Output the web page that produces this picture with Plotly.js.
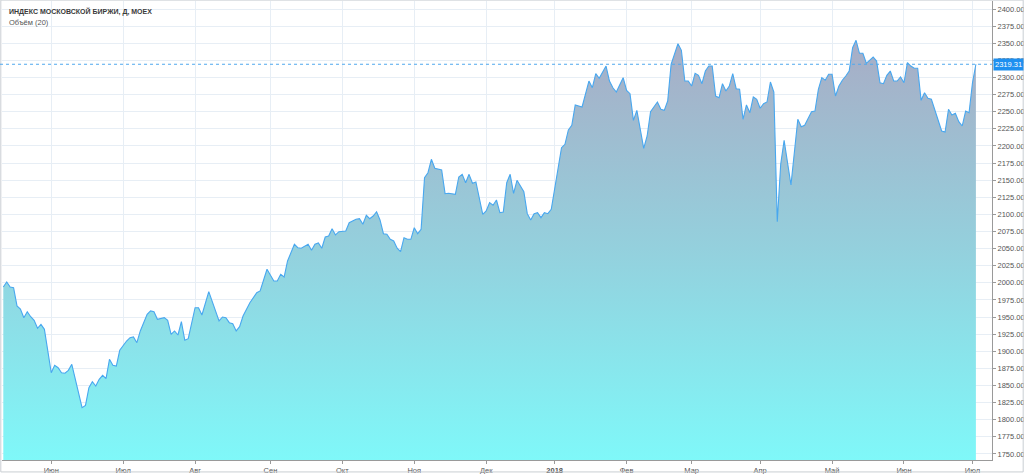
<!DOCTYPE html>
<html><head><meta charset="utf-8">
<script src="https://cdn.plot.ly/plotly-3.0.1.min.js"></script>
<style>html,body{margin:0;padding:0;background:#fff;overflow:hidden}#chart{width:1024px;height:474px}</style>
</head><body><div id="chart"></div>
<script>
// trading-session index (bar number) and close values of the MOEX index
const sessionIdx = [0,1,2,3,4,5,6,7,8,9,10,11,12,14,15,16,17,18,19,20,23,24,25,26,27,28,29,30,31,32,33,34,36,37,38,39,40,42,43,44,45,47,48,49,50,51,52,53,54,56,57,58,60,63,64,65,66,67,68,69,70,72,74,75,77,79,80,81,82,83,85,86,87,89,90,91,92,93,94,95,96,97,98,99,100,101,103,104,105,106,107,108,109,110,111,112,113,114,115,116,117,118,119,120,121,122,123,124,125,126,127,128,129,130,132,133,134,135,136,137,138,140,141,142,143,144,145,146,147,148,149,150,152,153,154,155,156,157,158,159,160,163,164,165,166,167,169,171,172,173,174,176,177,178,179,181,182,183,184,185,187,188,189,191,192,193,194,195,197,198,199,200,201,202,203,204,205,206,207,208,209,210,211,212,213,214,215,216,217,218,219,220,221,222,223,224,225,226,227,228,230,232,233,234,236,237,238,239,240,241,242,243,244,245,246,247,248,249,250,251,252,253,254,255,256,257,258,259,260,261,262,263,264,265,266,267,268,269,270,271,274,275,276,277,278,279,280,281,282,283,284];
const closeValues = [1993.9,2001.2,1993.9,1992.9,1966.2,1961.8,1949.1,1957.8,1950.5,1945.3,1933.6,1939.4,1932.1,1868.7,1879.6,1876,1868.7,1867.9,1872.2,1881,1817.6,1821,1846.8,1855.6,1849.3,1859.1,1864.9,1860,1888.3,1879.6,1878.5,1901.5,1915,1919.9,1920.9,1912.6,1929.7,1954,1958.9,1957.8,1946.7,1949.1,1945.3,1924.8,1929.7,1923.8,1943.2,1916.1,1918.4,1963.7,1963.7,1953,1987.1,1944.3,1950.1,1949.1,1941.8,1940.3,1929.7,1935.9,1951.6,1971,1985.6,1988.1,2019.8,2002.7,2002.7,2012.5,2008.5,2031.9,2056.3,2051.3,2050.5,2056.3,2047.5,2056.3,2058.2,2050.5,2067,2068.4,2079.1,2069.9,2074.7,2075.7,2075.7,2087.8,2092.8,2093.7,2085.5,2098.7,2093.7,2097.6,2103.9,2091.8,2071.8,2070.9,2063.6,2061.1,2050.5,2045.5,2065.9,2063.6,2063.6,2080.5,2071.8,2078.2,2153.6,2160.9,2180.5,2167.3,2165.9,2164.8,2130.2,2130.8,2129.3,2154.6,2158.5,2146.3,2158.5,2145.4,2147.3,2100.1,2104.9,2117.1,2113.3,2121,2102.5,2103.5,2146.3,2158.5,2130.8,2149.8,2133.1,2101,2091.8,2101,2102.5,2095.2,2102.5,2101,2107.4,2197.4,2202.4,2223.3,2230.1,2259.8,2256.9,2294.8,2285,2305.5,2298.8,2316.7,2294.8,2285,2278.8,2299.7,2281.2,2276.3,2237.4,2252,2196.5,2214.5,2250,2264.2,2253.5,2252,2265.6,2319.2,2349.3,2339.7,2294.8,2294.8,2287.5,2306.1,2303.2,2290.9,2309.4,2316.7,2316.7,2272.9,2270.4,2290.9,2280.2,2287.5,2305.5,2283.6,2282.7,2238.9,2259.8,2248.5,2271.5,2268.1,2255,2261.7,2264.2,2293.4,2278.8,2089.3,2173.2,2208.2,2142.9,2238.9,2228.1,2230.1,2250,2251,2282.7,2299.7,2295.9,2304.6,2304.6,2272.9,2287.5,2295.9,2302.1,2309.4,2343.5,2354.3,2335.3,2335.3,2320.7,2325.1,2329.9,2324,2292.3,2290.9,2303.2,2309.4,2294.8,2294.8,2300.7,2292.3,2321.6,2316.7,2313.4,2313.4,2266.6,2277.7,2269.6,2268.1,2221.8,2220.3,2253.5,2245.2,2247.6,2235.4,2229.1,2251,2248.5,2292.3,2319.31];
// first session of each month
const monthTickIdx = [14,35,56,78,99,120,141,161,182,201,221,242,263,283];
const monthLabels = ['Июн','Июл','Авг','Сен','Окт','Ноя','Дек','<b>2018</b>','Фев','Мар','Апр','Май','Июн','Июл'];
const lastPrice = 2319.31;
const chartTitle = 'ИНДЕКС МОСКОВСКОЙ БИРЖИ, Д, MOEX';
const subTitle = 'Объём (20)';

const FONT = 'Liberation Sans, Arial, sans-serif';
const GRID = '#E7EEF5';

const trace = {
  type: 'scatter', mode: 'lines',
  x: sessionIdx, y: closeValues,
  line: {color: '#48A7EF', width: 1.1},
  fill: 'tozeroy',
  fillgradient: {type: 'vertical', start: 1741, stop: 2360,
    colorscale: [[0, 'rgb(127,248,249)'], [0.5, 'rgb(148,208,221)'], [1, 'rgb(168,172,197)']]},
  hoverinfo: 'skip'
};

const layout = {
  width: 1024, height: 474,
  margin: {l: 2, r: 32, t: 1, b: 14, pad: 0},
  paper_bgcolor: '#ffffff', plot_bgcolor: '#ffffff',
  showlegend: false,
  font: {family: FONT, size: 8, color: '#555'},
  xaxis: {
    type: 'linear', range: [-0.38, 288.7], fixedrange: true,
    tickmode: 'array', tickvals: monthTickIdx, ticktext: monthLabels,
    showgrid: true, gridcolor: GRID, gridwidth: 1, zeroline: false,
    showline: true, linecolor: '#9a9a9a', linewidth: 1,
    ticks: 'outside', ticklen: 3, tickcolor: '#9a9a9a',
    tickfont: {family: FONT, size: 7.5, color: '#555'}
  },
  yaxis: {
    side: 'right', range: [1741.2, 2411.7], fixedrange: true,
    tickmode: 'linear', tick0: 1750, dtick: 25, tickformat: '.2f',
    showgrid: true, gridcolor: GRID, gridwidth: 1, zeroline: false,
    showline: true, linecolor: '#9a9a9a', linewidth: 1,
    ticks: 'outside', ticklen: 3, tickcolor: '#9a9a9a',
    tickfont: {family: FONT, size: 7.5, color: '#555'}
  },
  shapes: [
    {type: 'rect', xref: 'paper', yref: 'paper', x0: -0.0012, x1: 1.0315, y0: -0.026, y1: 1.002,
     line: {color: '#C9CED3', width: 1}, fillcolor: 'rgba(0,0,0,0)', layer: 'above'},
    {type: 'line', xref: 'paper', yref: 'y', x0: -0.002, x1: 1, y0: lastPrice, y1: lastPrice,
     line: {color: '#4FA8EE', width: 1, dash: 'dot'}, layer: 'above'}
  ],
  annotations: [
    {xref: 'paper', yref: 'paper', x: 0.005, y: 0.978, xanchor: 'left', yanchor: 'middle',
     text: '<b>' + chartTitle + '</b>', showarrow: false,
     font: {family: FONT, size: 7, color: '#3a3a3a'}},
    {xref: 'paper', yref: 'paper', x: 0.005, y: 0.954, xanchor: 'left', yanchor: 'middle',
     text: subTitle, showarrow: false,
     font: {family: FONT, size: 7.5, color: '#555'}},
    {xref: 'paper', yref: 'y', x: 1, y: lastPrice, xanchor: 'left', yanchor: 'middle',
     text: lastPrice.toFixed(2), showarrow: false, bgcolor: '#1E90F0', borderpad: 1, xshift: 1,
     font: {family: FONT, size: 7.5, color: '#ffffff'}}
  ]
};

Plotly.newPlot('chart', [trace], layout, {staticPlot: true, displayModeBar: false});
</script>
</body></html>
